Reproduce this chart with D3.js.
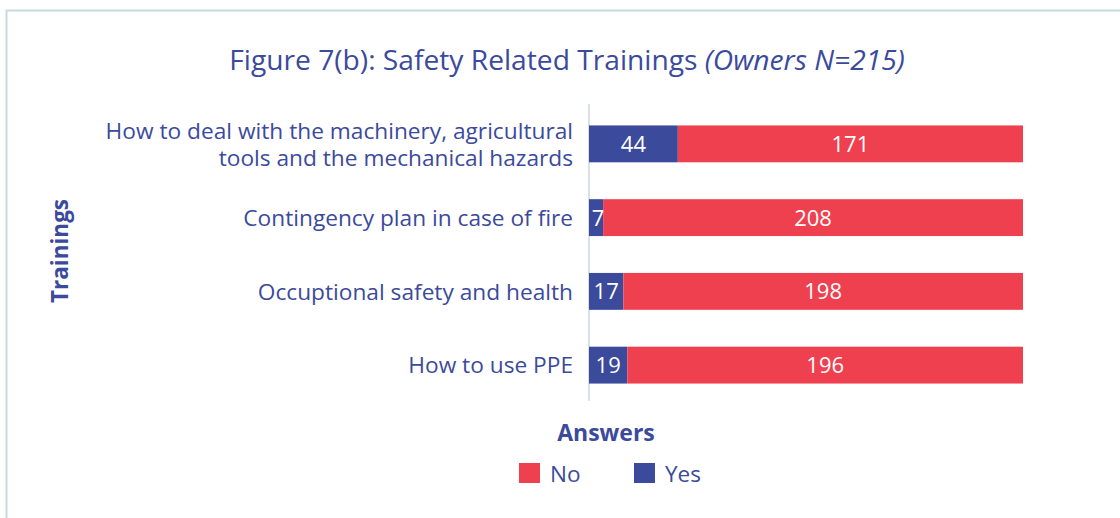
<!DOCTYPE html>
<html>
<head>
<meta charset="utf-8">
<script src="https://cdn.jsdelivr.net/npm/d3@7"></script>
<style>
  body { margin: 0; background: #fff; }
  svg { display: block; font-family: "Open Sans", "Noto Sans", sans-serif; }
</style>
</head>
<body>
<svg id="chart" width="1120" height="518"></svg>
<script>
// chart data
const trainings = [
  ["How to deal with the machinery, agricultural", "tools and the mechanical hazards"],
  ["Contingency plan in case of fire"],
  ["Occuptional safety and health"],
  ["How to use PPE"]
];
const yesValues = [44, 7, 17, 19];
const noValues = [171, 208, 198, 196];
const seriesNames = ["No", "Yes"];

const blue = "#3c4a9b", red = "#ef404f", textColor = "#3b4a9c";

const svg = d3.select("#chart");

// frame
svg.append("path")
  .attr("d", "M6.5,518 V10.5 H1120")
  .attr("fill", "none")
  .attr("stroke", "#c7dadd")
  .attr("stroke-width", 2);

// title
const title = svg.append("text")
  .attr("x", 567)
  .attr("y", 70)
  .attr("text-anchor", "middle")
  .attr("fill", textColor)
  .style("font-size", "28.2px");
title.append("tspan").text("Figure 7(b): Safety Related Trainings ");
title.append("tspan").style("font-style", "italic").text("(Owners N=215)");

const x0 = 589, x1 = 1023;
const rows = d3.range(trainings.length);

const xScale = d3.scaleLinear().domain([0, 215]).range([x0, x1]);
const yScale = d3.scaleBand().domain(rows).range([107, 402]).paddingInner(0.5).paddingOuter(0.25);

// axis line
svg.append("line")
  .attr("x1", x0).attr("x2", x0)
  .attr("y1", 104).attr("y2", 401)
  .attr("stroke", "#c7dadd")
  .attr("stroke-width", 1.5);

// yes bars
svg.append("g").selectAll("rect")
  .data(rows)
  .join("rect")
  .attr("x", x0)
  .attr("y", (i) => yScale(i))
  .attr("width", (i) => xScale(yesValues[i]) - x0)
  .attr("height", yScale.bandwidth())
  .attr("fill", blue);

// no bars
svg.append("g").selectAll("rect")
  .data(rows)
  .join("rect")
  .attr("x", (i) => xScale(yesValues[i]))
  .attr("y", (i) => yScale(i))
  .attr("width", (i) => xScale(yesValues[i] + noValues[i]) - xScale(yesValues[i]))
  .attr("height", yScale.bandwidth())
  .attr("fill", red);

// value labels
rows.forEach((i) => {
  const cy = yScale(i) + yScale.bandwidth() / 2;
  svg.append("text")
    .attr("x", (xScale(0) + xScale(yesValues[i])) / 2 + (yesValues[i] < 10 ? 2 : 0))
    .attr("y", cy)
    .attr("dy", "0.36em")
    .attr("text-anchor", "middle")
    .attr("fill", "#fff")
    .style("font-size", "22px")
    .text(yesValues[i]);
  svg.append("text")
    .attr("x", (xScale(yesValues[i]) + xScale(yesValues[i] + noValues[i])) / 2)
    .attr("y", cy)
    .attr("dy", "0.36em")
    .attr("text-anchor", "middle")
    .attr("fill", "#fff")
    .style("font-size", "22px")
    .text(noValues[i]);
});

// category labels
rows.forEach((i) => {
  const cy = yScale(i) + yScale.bandwidth() / 2;
  const lines = trainings[i];
  const t = svg.append("text")
    .attr("text-anchor", "end")
    .attr("fill", textColor)
    .style("font-size", "22.7px");
  lines.forEach((l, k) => {
    t.append("tspan")
      .attr("x", 573)
      .attr("y", cy + (k - (lines.length - 1) / 2) * 27)
      .attr("dy", "0.36em")
      .text(l);
  });
});

// y axis title
svg.append("text")
  .attr("transform", "translate(60,251) rotate(-90)")
  .attr("text-anchor", "middle")
  .attr("dy", "0.36em")
  .attr("fill", textColor)
  .style("font-size", "22.5px")
  .style("font-weight", "bold")
  .text("Trainings");

// legend
svg.append("text")
  .attr("x", 606)
  .attr("y", 433)
  .attr("dy", "0.36em")
  .attr("text-anchor", "middle")
  .attr("fill", textColor)
  .style("font-size", "23px")
  .style("font-weight", "bold")
  .text("Answers");

const legendColors = { No: red, Yes: blue };
const legendX = { No: 519, Yes: 634 };
seriesNames.forEach((s) => {
  svg.append("rect")
    .attr("x", legendX[s])
    .attr("y", 463)
    .attr("width", 21)
    .attr("height", 20)
    .attr("fill", legendColors[s]);
  svg.append("text")
    .attr("x", legendX[s] + 31)
    .attr("y", 474)
    .attr("dy", "0.36em")
    .attr("fill", textColor)
    .style("font-size", "22.5px")
    .text(s);
});
</script>
</body>
</html>
